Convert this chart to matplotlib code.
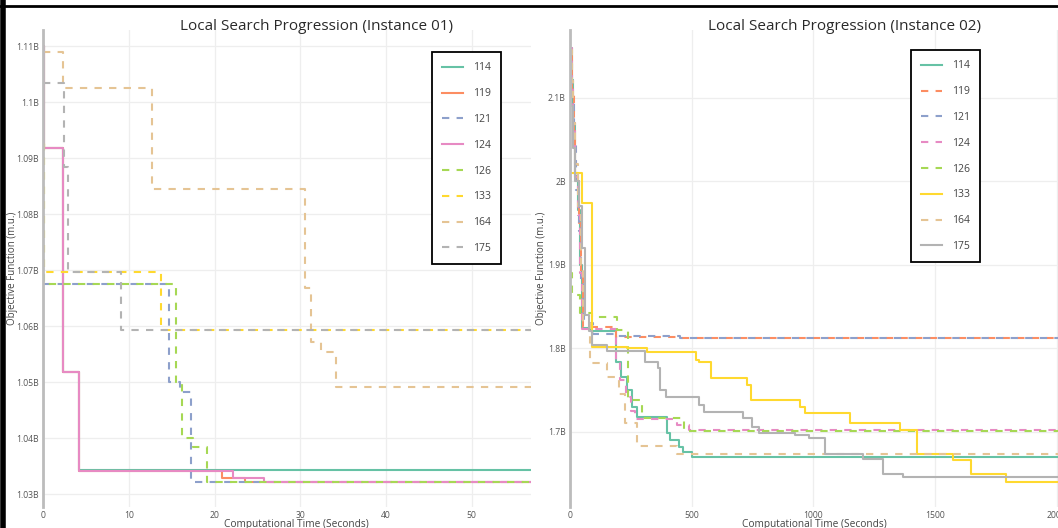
import matplotlib
matplotlib.use('Agg')
import matplotlib.pyplot as plt
from matplotlib.ticker import MultipleLocator, FuncFormatter
from matplotlib.lines import Line2D

plt.rcParams['font.family'] = ['Open Sans', 'DejaVu Sans']

# series labels and colours (Set2)
labels = ['114', '119', '121', '124', '126', '133', '164', '175']
colors = ['#66c2a5', '#fc8d62', '#8da0cb', '#e78ac3', '#a6d854', '#ffd92f', '#e5c494', '#b3b3b3']
dash_left = [False, False, True, False, True, True, True, True]
dash_right = [False, True, True, True, True, False, True, False]

# Instance 01 : time (s) / objective (billions)
i1_114_t = [0, 0.1, 2.3, 4.2, 57]
i1_114_v = [1.110, 1.0918, 1.0518, 1.0343, 1.0343]
i1_119_t = [0, 0.1, 2.3, 4.2, 20.9, 23.5, 57]
i1_119_v = [1.110, 1.0918, 1.0518, 1.0342, 1.0329, 1.0321, 1.0321]
i1_121_t = [0, 14.7, 16.0, 17.3, 57]
i1_121_v = [1.0676, 1.0501, 1.0483, 1.0321, 1.0321]
i1_124_t = [0, 0.1, 2.3, 4.2, 22.1, 25.8, 57]
i1_124_v = [1.110, 1.0918, 1.0518, 1.0342, 1.0329, 1.0321, 1.0321]
i1_126_t = [0, 0.1, 15.5, 16.2, 17.5, 19.1, 57]
i1_126_v = [1.0925, 1.0676, 1.0496, 1.0401, 1.0384, 1.0321, 1.0321]
i1_133_t = [0, 0.1, 13.8, 57]
i1_133_v = [1.0925, 1.0696, 1.0594, 1.0594]
i1_164_t = [0, 2.3, 12.75, 30.5, 31.2, 32.4, 34.2, 57]
i1_164_v = [1.1090, 1.1026, 1.0845, 1.0669, 1.0571, 1.0554, 1.0491, 1.0491]
i1_175_t = [0, 2.4, 2.9, 9.1, 57]
i1_175_v = [1.1035, 1.0884, 1.0697, 1.0593, 1.0593]

# Instance 02
i2_114_t = [0, 7, 14, 21, 34, 41, 48, 82, 191, 208, 233, 253, 277, 397, 411, 448, 463, 500, 2050]
i2_114_v = [2.16, 2.121, 2.07, 2.01, 1.965, 1.90, 1.8238, 1.8206, 1.7838, 1.7659, 1.7499, 1.730,
            1.7172, 1.6988, 1.690, 1.682, 1.6753, 1.670, 1.670]
i2_119_t = [0, 8, 15, 22, 36, 44, 52, 190, 452, 2050]
i2_119_v = [2.15, 2.11, 2.06, 2.0, 1.95, 1.89, 1.8255, 1.8138, 1.812, 1.812]
i2_121_t = [0, 8, 16, 24, 36, 46, 56, 95, 190, 452, 2050]
i2_121_v = [2.14, 2.10, 2.05, 1.99, 1.94, 1.88, 1.83, 1.817, 1.8145, 1.812, 1.812]
i2_124_t = [0, 7, 14, 21, 34, 43, 50, 188, 205, 230, 250, 265, 438, 490, 2050]
i2_124_v = [2.16, 2.12, 2.07, 2.005, 1.96, 1.89, 1.8225, 1.785, 1.762, 1.742, 1.725, 1.7152,
            1.708, 1.7015, 1.7015]
i2_126_t = [0, 10, 41, 89, 193, 240, 295, 468, 2050]
i2_126_v = [1.89, 1.864, 1.842, 1.8377, 1.8218, 1.738, 1.716, 1.701, 1.701]
i2_133_t = [0, 1, 51, 89, 233, 315, 518, 528, 578, 729, 743, 945, 966, 1150, 1356, 1425,
            1575, 1647, 1790, 2050]
i2_133_v = [2.068, 2.010, 1.974, 1.8018, 1.7998, 1.7958, 1.7859, 1.7831, 1.7647, 1.756, 1.738,
            1.730, 1.7228, 1.710, 1.702, 1.673, 1.666, 1.649, 1.640, 1.640]
i2_164_t = [0, 7, 14, 21, 34, 44, 52, 82, 153, 203, 227, 274, 438, 2050]
i2_164_v = [2.157, 2.12, 2.07, 2.02, 1.97, 1.90, 1.83, 1.782, 1.766, 1.745, 1.710, 1.683,
            1.673, 1.673]
i2_175_t = [0, 5, 12, 22, 35, 50, 62, 79, 89, 151, 308, 363, 370, 395, 532, 551, 710, 747,
            778, 925, 980, 1048, 1205, 1285, 1367, 2050]
i2_175_v = [2.15, 2.09, 2.04, 2.0, 1.97, 1.92, 1.8397, 1.8206, 1.8038, 1.7967, 1.7838, 1.776,
            1.750, 1.741, 1.732, 1.723, 1.716, 1.706, 1.699, 1.696, 1.692, 1.673, 1.667, 1.649,
            1.646, 1.646]

inst1 = [(i1_114_t, i1_114_v), (i1_119_t, i1_119_v), (i1_121_t, i1_121_v), (i1_124_t, i1_124_v),
         (i1_126_t, i1_126_v), (i1_133_t, i1_133_v), (i1_164_t, i1_164_v), (i1_175_t, i1_175_v)]
inst2 = [(i2_114_t, i2_114_v), (i2_119_t, i2_119_v), (i2_121_t, i2_121_v), (i2_124_t, i2_124_v),
         (i2_126_t, i2_126_v), (i2_133_t, i2_133_v), (i2_164_t, i2_164_v), (i2_175_t, i2_175_v)]

W, H = 1058, 528
fig = plt.figure(figsize=(W / 100, H / 100), dpi=100)


def px_box(x0, y0, x1, y1):
    return [x0 / W, 1 - y1 / H, (x1 - x0) / W, (y1 - y0) / H]


def bfmt(v, pos):
    return '%gB' % round(v, 2)


def panel(box, data, dashes, xlim, ylim, xstep, ystep, title, title_x, leg_xy, xlab_x, ylab_x):
    ax = fig.add_axes(box)
    for (t, v), lab, c, d in zip(data, labels, colors, dashes):
        ax.plot(t, v, drawstyle='steps-post', color=c, lw=1.5, label=lab,
                dashes=(3.5, 3.5) if d else (None, None), linestyle='--' if d else '-')
    ax.set_xlim(*xlim)
    ax.set_ylim(*ylim)
    ax.xaxis.set_major_locator(MultipleLocator(xstep))
    ax.yaxis.set_major_locator(MultipleLocator(ystep))
    ax.yaxis.set_major_formatter(FuncFormatter(bfmt))
    ax.grid(color='#eeeeee', lw=0.9)
    ax.set_axisbelow(True)
    for s in ['top', 'right', 'bottom']:
        ax.spines[s].set_visible(False)
    ax.spines['left'].set_color('#bcbcbc')
    ax.spines['left'].set_linewidth(2)
    ax.tick_params(length=0, labelsize=6.2, labelcolor='#555555', pad=3)
    ax.set_xlabel('Computational Time (Seconds)', fontsize=7.3, color='#444444')
    ax.set_ylabel('Objective Function (m.u.)', fontsize=7, color='#444444')
    ax.xaxis.set_label_coords(xlab_x, -0.025)
    ax.yaxis.set_label_coords(ylab_x, 0.5)
    fig.text(title_x / W, 1 - 27 / H, title, ha='center', va='center', fontsize=11,
             color='#2a2a2a')
    leg = ax.legend(loc='upper left', bbox_to_anchor=(leg_xy[0] / W, 1 - leg_xy[1] / H),
                    bbox_transform=fig.transFigure, borderaxespad=0, fancybox=False,
                    framealpha=1, edgecolor='black', fontsize=7.5, labelspacing=1.42,
                    handlelength=2.0, handletextpad=0.9, borderpad=1.0)
    leg.get_frame().set_linewidth(1.3)
    for txt in leg.get_texts():
        txt.set_color('#444444')
    return ax


panel(px_box(43, 30, 531, 507), inst1, dash_left, (0, 56.9), (1.0277, 1.1129), 10, 0.01,
      'Local Search Progression (Instance 01)', 316, (432, 52), 0.52, -0.051)
panel(px_box(570, 30, 1069, 507), inst2, dash_right, (0, 2050), (1.6098, 2.181), 500, 0.1,
      'Local Search Progression (Instance 02)', 844, (911, 50), 0.49, -0.046)

# screenshot frame
fig.add_artist(Line2D([3 / W, 3 / W], [0, 1], color='black', lw=4))
fig.add_artist(Line2D([0, 1], [1 - 6 / H, 1 - 6 / H], color='black', lw=2))

fig.savefig('out.png', dpi=100)
